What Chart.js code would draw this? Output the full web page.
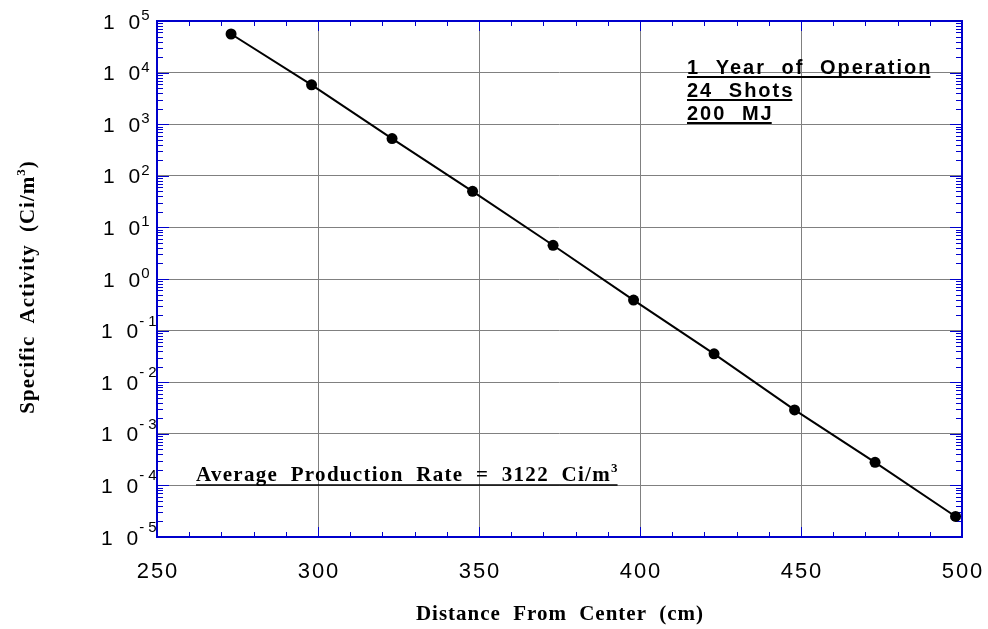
<!DOCTYPE html>
<html><head><meta charset="utf-8">
<script src="https://cdn.jsdelivr.net/npm/chart.js@4.4.0/dist/chart.umd.min.js"></script>
<style>html,body{margin:0;padding:0;background:#fff;}#wrap{width:988px;height:629px;position:relative;}canvas{display:block;}</style>
</head><body><div id="wrap"><canvas id="c" width="988" height="629"></canvas></div>
<script>
// ---- data ----
const distanceCm = [273, 298, 323, 348, 373, 398, 423, 448, 473, 498];
const specificActivity = [5.6e4, 5.8e3, 527, 50, 4.5, 0.39, 0.0355, 0.0029, 2.8e-4, 2.5e-5];
const xTickValues = [250, 300, 350, 400, 450, 500];
const yTickExponents = [5, 4, 3, 2, 1, 0, -1, -2, -3, -4, -5];
const xAxisTitle = 'Distance From Center (cm)';
const yAxisTitle = ['Specific Activity (Ci/m', '3', ')'];
const noteLines = ['1 Year of Operation', '24 Shots', '200 MJ'];
const rateNote = ['Average Production Rate = 3122 Ci/m', '3'];

const BLUE = '#0000cc';
const SANS = '"Liberation Sans", Arial, sans-serif';
const SERIF = '"Liberation Serif", "Times New Roman", serif';

function setSpacing(ctx, ls, ws) {
  if ('letterSpacing' in ctx) ctx.letterSpacing = ls;
  if ('wordSpacing' in ctx) ctx.wordSpacing = ws;
}

const decor = {
  id: 'decor',
  beforeDatasetsDraw(chart) {
    const ctx = chart.ctx, a = chart.chartArea, xs = chart.scales.x, ys = chart.scales.y;
    ctx.save();
    ctx.strokeStyle = BLUE;
    ctx.lineWidth = 1;
    ctx.beginPath();
    const xmin = xTickValues[0], xmax = xTickValues[xTickValues.length - 1];
    for (let v = xmin; v <= xmax; v += 10) {
      const px = Math.round(xs.getPixelForValue(v)) + 0.5;
      const L = (v % 50 === 0) ? 10 : 5;
      ctx.moveTo(px, a.bottom); ctx.lineTo(px, a.bottom - L);
      ctx.moveTo(px, a.top); ctx.lineTo(px, a.top + L);
    }
    const emin = Math.min(...yTickExponents), emax = Math.max(...yTickExponents);
    for (let e = emin; e < emax; e++) {
      for (let m = 1; m < 10; m++) {
        const py = Math.round(ys.getPixelForValue(m * Math.pow(10, e))) + 0.5;
        const L = m === 1 ? 12 : 6;
        ctx.moveTo(a.left, py); ctx.lineTo(a.left + L, py);
        ctx.moveTo(a.right, py); ctx.lineTo(a.right - L, py);
      }
    }
    ctx.stroke();
    ctx.lineWidth = 2;
    ctx.strokeRect(a.left, a.top, a.right - a.left, a.bottom - a.top);
    ctx.restore();
  },
  afterDraw(chart) {
    const ctx = chart.ctx, a = chart.chartArea, xs = chart.scales.x, ys = chart.scales.y;
    ctx.save();
    ctx.fillStyle = '#000';
    ctx.textBaseline = 'alphabetic';
    // y tick labels  "1 0" + superscript exponent
    yTickExponents.forEach(e => {
      const y = ys.getPixelForValue(Math.pow(10, e));
      ctx.font = '21px ' + SANS; setSpacing(ctx, '4px', '0px');
      ctx.textAlign = 'left';
      const lx = e < 0 ? 101 : 103;
      ctx.fillText('1 0', lx, y + 7.5);
      const w = ctx.measureText('1 0').width;
      ctx.font = '15px ' + SANS; setSpacing(ctx, '0px', '0px');
      const sup = e < 0 ? '- ' + Math.abs(e) : String(e);
      ctx.fillText(sup, lx + w - 3, e < 0 ? y - 5 : y - 1);
    });
    // x tick labels
    ctx.font = '22px ' + SANS; setSpacing(ctx, '2px', '0px');
    ctx.textAlign = 'center';
    xTickValues.forEach(v => {
      ctx.fillText(String(v), xs.getPixelForValue(v) + 1, 578);
    });
    // x title
    ctx.font = 'bold 21px ' + SERIF; setSpacing(ctx, '1px', '6px');
    ctx.textAlign = 'center';
    ctx.fillText(xAxisTitle, 560, 620);
    // y title (rotated)
    ctx.save();
    ctx.translate(34, 287);
    ctx.rotate(-Math.PI / 2);
    ctx.textAlign = 'left';
    ctx.font = 'bold 21px ' + SERIF; setSpacing(ctx, '1px', '6px');
    const w0 = ctx.measureText(yAxisTitle[0]).width;
    ctx.font = 'bold 13px ' + SERIF;
    const w1 = ctx.measureText(yAxisTitle[1]).width;
    ctx.font = 'bold 21px ' + SERIF;
    const w2 = ctx.measureText(yAxisTitle[2]).width;
    let x0 = -(w0 + w1 + w2) / 2;
    ctx.fillText(yAxisTitle[0], x0, 0);
    ctx.font = 'bold 13px ' + SERIF;
    ctx.fillText(yAxisTitle[1], x0 + w0, -9);
    ctx.font = 'bold 21px ' + SERIF;
    ctx.fillText(yAxisTitle[2], x0 + w0 + w1, 0);
    ctx.restore();
    // top-right note
    ctx.textAlign = 'left';
    ctx.font = 'bold 20px ' + SANS; setSpacing(ctx, '2px', '8px');
    ctx.strokeStyle = '#000';
    noteLines.forEach((t, i) => {
      const by = 74 + i * 23;
      ctx.fillText(t, 687, by);
      const w = ctx.measureText(t).width;
      ctx.lineWidth = 2;
      ctx.beginPath(); ctx.moveTo(687, by + 3); ctx.lineTo(687 + w - 2, by + 3); ctx.stroke();
    });
    // rate note
    ctx.font = 'bold 21px ' + SERIF; setSpacing(ctx, '1.3px', '6px');
    ctx.fillText(rateNote[0], 196, 481);
    const rw = ctx.measureText(rateNote[0]).width;
    ctx.font = 'bold 13px ' + SERIF; setSpacing(ctx, '0px', '0px');
    ctx.fillText(rateNote[1], 196 + rw, 472);
    const sw = ctx.measureText(rateNote[1]).width;
    ctx.lineWidth = 1.5;
    ctx.beginPath(); ctx.moveTo(196, 485); ctx.lineTo(196 + rw + sw, 485); ctx.stroke();
    ctx.restore();
  }
};

new Chart(document.getElementById('c'), {
  type: 'scatter',
  data: {
    datasets: [{
      data: distanceCm.map((x, i) => ({ x: x, y: specificActivity[i] })),
      showLine: true,
      borderColor: '#000',
      backgroundColor: '#000',
      borderWidth: 2,
      pointRadius: 5.5,
      pointHoverRadius: 5.5,
      pointBackgroundColor: '#000',
      pointBorderWidth: 0,
      clip: false
    }]
  },
  options: {
    responsive: false,
    animation: false,
    devicePixelRatio: 1,
    layout: { padding: { left: 157, top: 21, right: 26, bottom: 92 } },
    plugins: { legend: { display: false }, tooltip: { enabled: false }, title: { display: false } },
    scales: {
      x: {
        type: 'linear',
        min: xTickValues[0], max: xTickValues[xTickValues.length - 1],
        afterBuildTicks: s => { s.ticks = xTickValues.map(v => ({ value: v })); },
        ticks: { display: false },
        grid: { color: '#808080', lineWidth: 1, drawTicks: false },
        border: { display: false },
        title: { display: false }
      },
      y: {
        type: 'logarithmic',
        min: Math.pow(10, Math.min(...yTickExponents)), max: Math.pow(10, Math.max(...yTickExponents)),
        afterBuildTicks: s => { s.ticks = yTickExponents.map(e => ({ value: Math.pow(10, e) })); },
        ticks: { display: false },
        grid: { color: '#808080', lineWidth: 1, drawTicks: false },
        border: { display: false },
        title: { display: false }
      }
    }
  },
  plugins: [decor]
});
</script>
</body></html>
